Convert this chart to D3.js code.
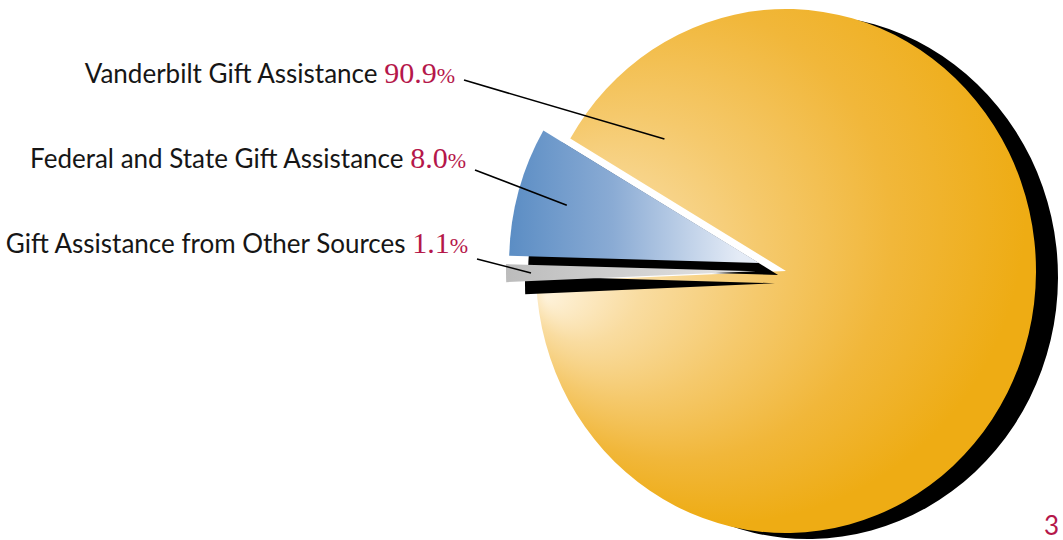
<!DOCTYPE html>
<html>
<head>
<meta charset="utf-8">
<script src="https://cdn.jsdelivr.net/npm/d3@7"></script>
<style>
  body { margin: 0; background: #fff; }
  svg { display: block; }
</style>
</head>
<body>
<div id="chart"></div>
<script>
// data
const categories = ["Vanderbilt Gift Assistance", "Federal and State Gift Assistance", "Gift Assistance from Other Sources"];
const shares = [90.9, 8.0, 1.1];
const shareLabels = ["90.9", "8.0", "1.1"];
const pageNumber = "3";

const width = 1063, height = 540;
const cx = 786, cy = 271, rx = 250, ry = 262;
const ky = ry / rx;
const deg = Math.PI / 180;

// layout for labels (screen px)
const labelEnds = [455, 466, 468];
const labelBase = [83, 168, 253];
const lineDy = [-3, 2, 6];
const explode = [0, 28, 30];           // px pushed out along the slice bisector
const anchorR = [0.7, 0.8, 0.9];       // leader line end, fraction of radius
const anchorAngle = [-44, null, null]; // null = slice middle

let svg = d3.select("#chart")
    .append("svg")
    .attr("width", width)
    .attr("height", height);

let defs = svg.append("defs");

// gradient coords are in the slice's own (unscaled, centred) space
let yg = defs.append("radialGradient")
    .attr("id", "gYellow")
    .attr("gradientUnits", "userSpaceOnUse")
    .attr("cx", -60).attr("cy", -60).attr("r", 300)
    .attr("fx", -240).attr("fy", 25);
yg.append("stop").attr("offset", 0).attr("stop-color", "#fef2da");
yg.append("stop").attr("offset", 0.2).attr("stop-color", "#f9dca0");
yg.append("stop").attr("offset", 0.45).attr("stop-color", "#f5c96c");
yg.append("stop").attr("offset", 0.72).attr("stop-color", "#f1b73a");
yg.append("stop").attr("offset", 1).attr("stop-color", "#eeac14");

let bg = defs.append("linearGradient")
    .attr("id", "gBlue")
    .attr("gradientUnits", "userSpaceOnUse")
    .attr("x1", -250).attr("y1", 0).attr("x2", -20).attr("y2", 0);
bg.append("stop").attr("offset", 0).attr("stop-color", "#5b8dc4");
bg.append("stop").attr("offset", 0.45).attr("stop-color", "#8aabd4");
bg.append("stop").attr("offset", 1).attr("stop-color", "#e4ebf6");

let gg = defs.append("linearGradient")
    .attr("id", "gGray")
    .attr("gradientUnits", "userSpaceOnUse")
    .attr("x1", -250).attr("y1", 0).attr("x2", -20).attr("y2", 0);
gg.append("stop").attr("offset", 0).attr("stop-color", "#bcbcbc");
gg.append("stop").attr("offset", 1).attr("stop-color", "#e2e2e2");

const fills = ["url(#gYellow)", "url(#gBlue)", "url(#gGray)"];
const shadowOffset = [[22, 6], [19, 12], [19, 12]];

// counter-clockwise pie, Vanderbilt first
const a0 = 267.6 * deg;
let pie = d3.pie().sort(null).value(d => d.v)
    .startAngle(a0).endAngle(a0 - 2 * Math.PI);
let arcs = pie(shares.map((v, i) => ({v: v, i: i})));

let arc = d3.arc().innerRadius(0).outerRadius(rx);

function shift(d) {
    let mid = (d.startAngle + d.endAngle) / 2;
    let e = explode[d.data.i];
    return [Math.sin(mid) * e, -Math.cos(mid) * e * ky];
}

let pieG = svg.append("g");

arcs.forEach(function(d) {
    let s = shift(d);
    let so = shadowOffset[d.data.i];
    pieG.append("path")
        .attr("d", arc(d))
        .attr("fill", "#000")
        .attr("transform", `translate(${cx + s[0] + so[0]}, ${cy + s[1] + so[1]}) scale(1, ${ky})`);
    pieG.append("path")
        .attr("d", arc(d))
        .attr("fill", fills[d.data.i])
        .attr("transform", `translate(${cx + s[0]}, ${cy + s[1]}) scale(1, ${ky})`);
});

// labels
let labels = svg.append("g");

arcs.forEach(function(d) {
    let i = d.data.i;
    let t = labels.append("text")
        .attr("x", labelEnds[i])
        .attr("y", labelBase[i])
        .style("text-anchor", "end");
    t.append("tspan")
        .style("font-family", "Lato, 'Open Sans', sans-serif")
        .style("font-size", "26px")
        .attr("fill", "#161616")
        .text(categories[i] + " ");
    t.append("tspan")
        .style("font-family", "'Liberation Serif', serif")
        .style("font-size", "30px")
        .attr("fill", "#b5174a")
        .text(shareLabels[i]);
    t.append("tspan")
        .style("font-family", "'Liberation Serif', serif")
        .style("font-size", "22px")
        .attr("fill", "#b5174a")
        .text("%");

    let s = shift(d);
    let a = anchorAngle[i] === null ? (d.startAngle + d.endAngle) / 2 : anchorAngle[i] * deg;
    let r = anchorR[i] * rx;
    let ax = cx + s[0] + Math.sin(a) * r;
    let ay = cy + s[1] - Math.cos(a) * r * ky;
    labels.append("line")
        .attr("x1", labelEnds[i] + 9)
        .attr("y1", labelBase[i] + lineDy[i])
        .attr("x2", ax)
        .attr("y2", ay)
        .attr("stroke", "#000")
        .attr("stroke-width", 1.6);
});

svg.append("text")
    .attr("x", 1059)
    .attr("y", 535)
    .style("text-anchor", "end")
    .style("font-family", "Lato, sans-serif")
    .style("font-size", "26px")
    .attr("fill", "#b5174a")
    .text(pageNumber);
</script>
</body>
</html>
